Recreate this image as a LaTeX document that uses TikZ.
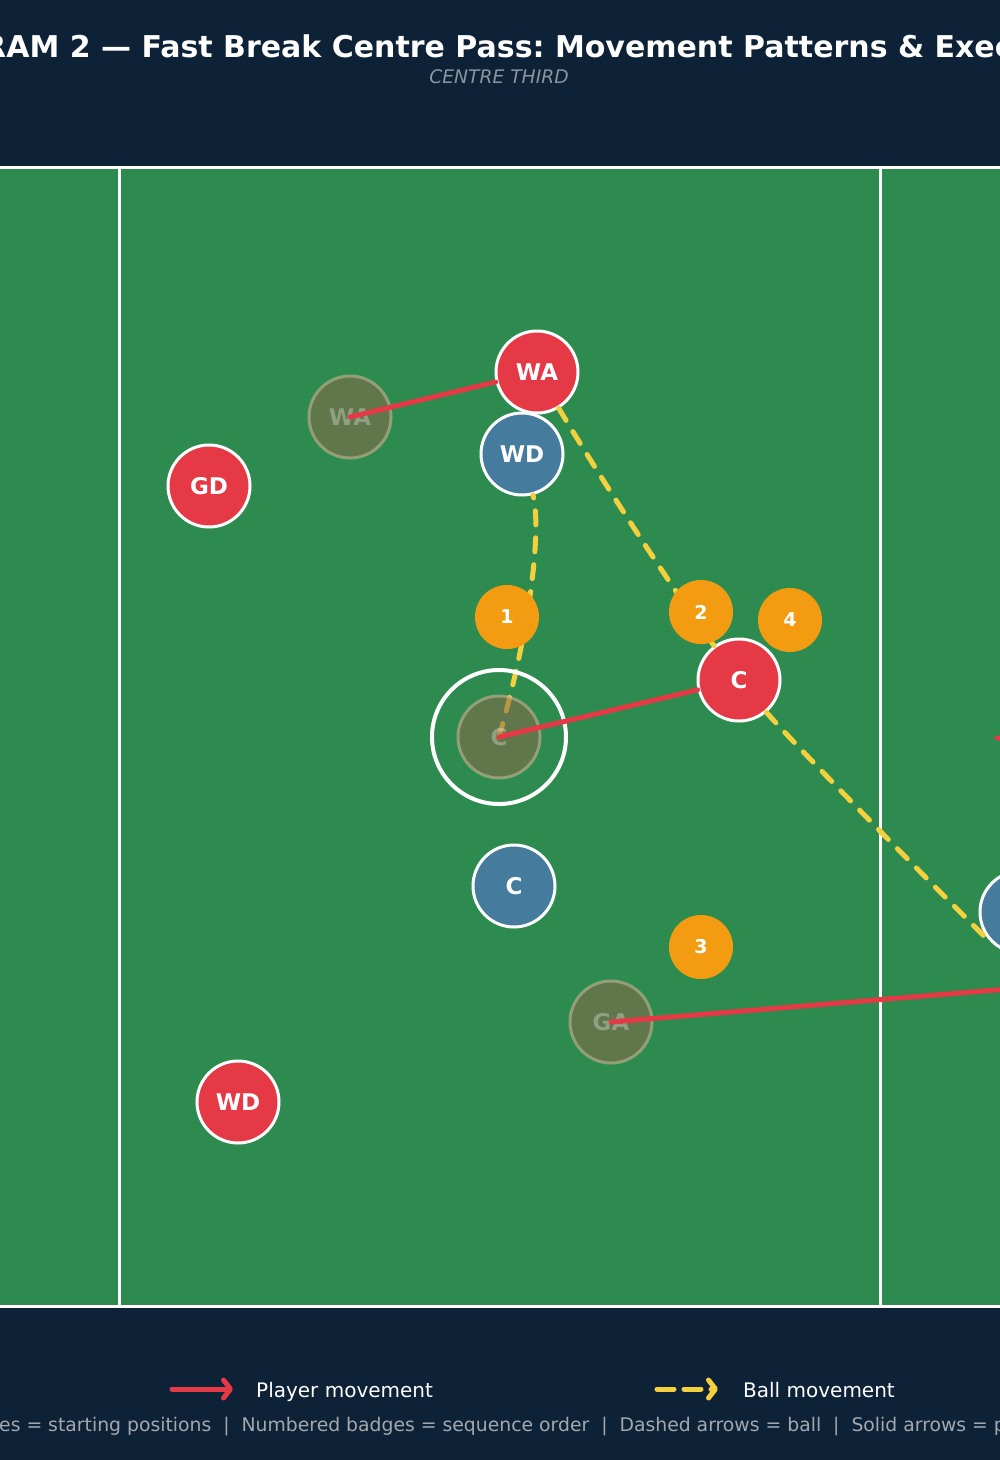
\documentclass[tikz,border=0pt]{standalone}
\usepackage{fontspec}
\setmainfont{DejaVu Sans}
\usetikzlibrary{arrows.meta}
\frenchspacing
\definecolor{navy}{HTML}{0D2137}
\definecolor{courtgreen}{HTML}{2E8B4F}
\definecolor{netred}{HTML}{E63946}
\definecolor{netblue}{HTML}{457B9D}
\definecolor{badgeorange}{HTML}{F39C12}
\definecolor{ballyellow}{HTML}{F4D03F}
\definecolor{ghostbrown}{HTML}{8A6548}
\definecolor{ghostedge}{HTML}{C4B494}
\definecolor{subgray}{HTML}{8A95A0}
\definecolor{notegray}{HTML}{A3A8AE}

\begin{document}
\begin{tikzpicture}[x=1pt,y=-1pt,
    player/.style={circle,draw=white,line width=3pt,minimum size=82pt,inner sep=0pt,
      text=white,font=\fontsize{23}{23}\selectfont\bfseries},
    attack/.style={player,fill=netred},
    defend/.style={player,fill=netblue},
    ghost/.style={player,fill=ghostbrown,fill opacity=0.55,draw=ghostedge,draw opacity=0.6,
      text opacity=0.3},
    badge/.style={circle,fill=badgeorange,minimum size=64pt,inner sep=0pt,
      text=white,font=\fontsize{19}{19}\selectfont\bfseries},
    move/.style={draw=netred,line width=5pt,line cap=round},
    pass/.style={draw=ballyellow,line width=5pt,line cap=round,dash pattern=on 14pt off 13pt},
    courtline/.style={draw=white,line width=3.5pt}]
  \fill[navy] (0,0) rectangle (1000,1460);
  \useasboundingbox (0,0) rectangle (1000,1460);
  \clip (0,0) rectangle (1000,1460);
  \fill[courtgreen] (-10,167) rectangle (1010,1306);
  \draw[courtline] (-10,167.5) -- (1010,167.5);
  \draw[courtline] (-10,1306.5) -- (1010,1306.5);
  \draw[courtline] (119.5,167) -- (119.5,1306);
  \draw[courtline] (880.5,167) -- (880.5,1306);

  \node[attack] (wa) at (537,372) {WA};
  \node[defend] (wd) at (522,454) {WD};
  \node[attack] (gd) at (209,486) {GD};
  \node[attack] (c) at (739,680) {C};
  \node[defend] (cdef) at (514,886) {C};
  \node[attack] (wdatt) at (238,1102) {WD};
  \node[defend] (rightdef) at (1021,912) {};
  \coordinate (cstart) at (499,737);
  \coordinate (passend) at (985,937);
  \coordinate (gaend) at (1080,983);
  \coordinate (stub) at (997,738);
  \coordinate (stubend) at (1030,741);

  \draw[pass] (wa) .. controls (603,482) and (670,585) .. (c);
  \draw[pass] (cstart) .. controls (533,619) and (541,525) .. (wd);
  \draw[pass] (c) .. controls (778,726) and (860,812) .. (passend);

  \node[ghost] (gwa) at (350,417) {WA};
  \node[ghost] (gc) at (cstart) {C};
  \node[ghost] (gga) at (611,1022) {GA};
  \node[circle,draw=white,line width=4pt,minimum size=134pt] (centre) at (cstart) {};

  \draw[move] (gwa.center) -- (wa);
  \draw[move] (gc.center) -- (c);
  \draw[move] (gga.center) -- (gaend);
  \draw[move] (stub) -- (stubend);

  \node[badge] (b1) at (507,617) {1};
  \node[badge] (b2) at (701,612) {2};
  \node[badge] (b3) at (701,947) {3};
  \node[badge] (b4) at (790,620) {4};

  \node[anchor=base west,text=white,font=\fontsize{30}{30}\selectfont\bfseries,inner sep=0pt]
    (title) at (-17,57) {RAM 2 — Fast Break Centre Pass: Movement Patterns \& Exec};
  \node[anchor=base,text=subgray,font=\fontsize{18.7}{18.7}\selectfont\itshape,inner sep=0pt]
    (third) at (499,83) {CENTRE THIRD};

  \coordinate (redfrom) at (172,1389);
  \coordinate (redto) at (233,1389);
  \coordinate (yelfrom) at (657,1389);
  \coordinate (yelto) at (718,1389);
  \draw[move,-{Straight Barb[length=7pt,width=18pt,round]}] (redfrom) -- (redto);
  \draw[pass,dash pattern=on 17pt off 10pt,-{Straight Barb[length=7pt,width=18pt,round]}] (yelfrom) -- (yelto);
  \node[anchor=base west,text=white,font=\fontsize{20}{20}\selectfont,inner sep=0pt]
    (playerkey) at (256,1397) {Player movement};
  \node[anchor=base west,text=white,font=\fontsize{20}{20}\selectfont,inner sep=0pt]
    (ballkey) at (743,1397) {Ball movement};
  \node[anchor=base west,text=notegray,font=\fontsize{18.8}{18.8}\selectfont,inner sep=0pt]
    (note) at (-1,1431) {es = starting positions\ \ |\ \ Numbered badges = sequence order\ \ |\ \ Dashed arrows = ball\ \ |\ \ Solid arrows = p};
\end{tikzpicture}
\end{document}
